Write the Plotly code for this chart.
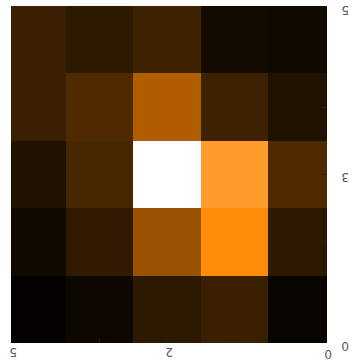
import plotly.graph_objects as go

# intensity values, rows listed top-to-bottom as displayed, columns left-to-right
row_top = [0.102, 0.079, 0.111, 0.035, 0.032]
row_2 = [0.102, 0.139, 0.312, 0.108, 0.058]
row_mid = [0.056, 0.127, 1.000, 0.540, 0.139]
row_4 = [0.030, 0.085, 0.270, 0.462, 0.078]
row_bottom = [0.005, 0.023, 0.079, 0.102, 0.014]

x_tick_vals = [-0.32, 2, 4.38]
x_tick_text = ["5", "2", "0"]
y_tick_vals = [-0.5, 2, 4.5]
y_tick_text = ["0", "3", "5"]

z_rows = [row_bottom, row_4, row_mid, row_2, row_top]

colorscale = [[0.0, "#000000"], [0.45, "#ff8800"], [1.0, "#ffffff"]]

fig = go.Figure(go.Heatmap(
    z=z_rows,
    colorscale=colorscale,
    zmin=0, zmax=1,
    showscale=False,
    hoverinfo="skip",
))

label_font = dict(family="DejaVu Sans", size=12, color="#555555")
annotations = []
for v, t in zip(x_tick_vals, x_tick_text):
    annotations.append(dict(
        x=v, xref="x", y=0, yref="paper", text=t, showarrow=False,
        textangle=180, font=label_font, xanchor="center", yanchor="middle",
        xshift=2 if t != "0" else 1, yshift=-9 if t != "0" else -11,
    ))
for v, t in zip(y_tick_vals, y_tick_text):
    annotations.append(dict(
        x=1, xref="paper", y=v, yref="y", text=t, showarrow=False,
        textangle=180, font=label_font, xanchor="center", yanchor="middle",
        xshift=18, yshift={"0": -3, "3": -2.5, "5": -4}[t],
    ))

fig.update_layout(
    width=353, height=364,
    margin=dict(l=11, r=26, t=6, b=21),
    paper_bgcolor="white", plot_bgcolor="white",
    annotations=annotations,
    xaxis=dict(
        range=[-0.32, 4.38], showticklabels=False,
        ticks="", showgrid=False, zeroline=False, showline=False,
        minor=dict(tickmode="array", tickvals=[1, 2, 3], ticks="inside",
                   ticklen=4, tickcolor="#222222", showgrid=False),
    ),
    yaxis=dict(
        range=[-0.5, 4.5], side="right", showticklabels=False,
        ticks="", showgrid=False, zeroline=False, showline=False,
        minor=dict(tickmode="array", tickvals=[1, 2, 3], ticks="inside",
                   ticklen=5, tickcolor="#222222", showgrid=False),
    ),
)

fig.write_html("out.html")
